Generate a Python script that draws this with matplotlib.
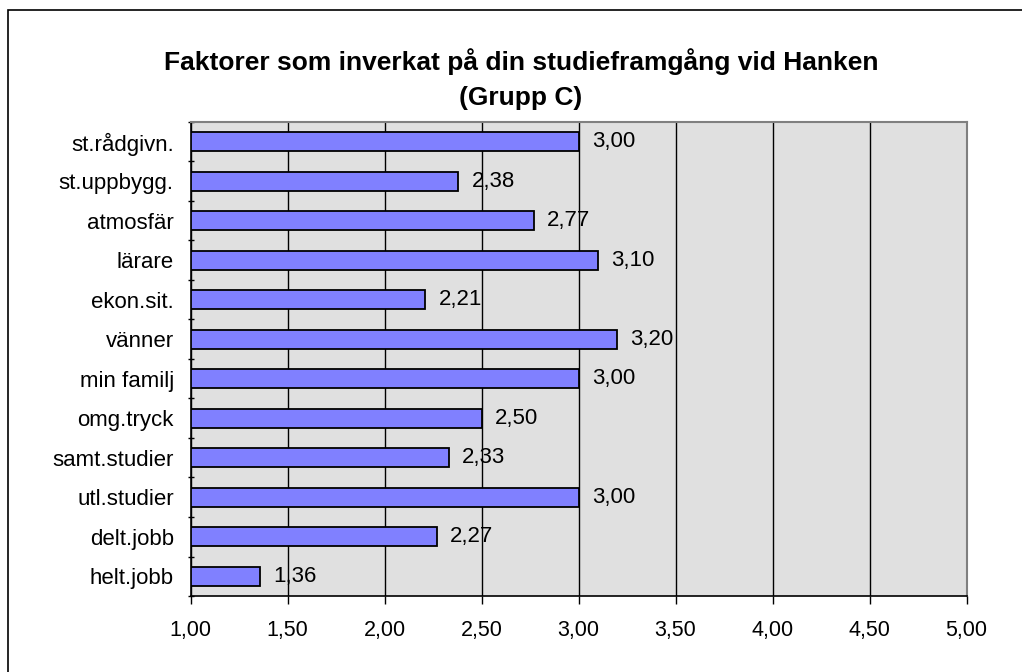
import matplotlib.pyplot as plt
from matplotlib.patches import Rectangle
import numpy as np

plt.rcParams['font.family'] = ['Liberation Sans', 'DejaVu Sans']

categories = ["st.rådgivn.", "st.uppbygg.", "atmosfär", "lärare", "ekon.sit.", "vänner",
              "min familj", "omg.tryck", "samt.studier", "utl.studier", "delt.jobb", "helt.jobb"]
values = [3.00, 2.38, 2.77, 3.10, 2.21, 3.20, 3.00, 2.50, 2.33, 3.00, 2.27, 1.36]
xticks = [1.0, 1.5, 2.0, 2.5, 3.0, 3.5, 4.0, 4.5, 5.0]

fig = plt.figure(figsize=(10.22, 6.72), dpi=100)
# outer chart border (only left/top visible in the reference)
fig.patches.append(Rectangle((8 / 1022, -0.1), 1.2, 1.1 - 10 / 672, transform=fig.transFigure,
                             fill=False, edgecolor='black', linewidth=1.2))

ax = fig.add_axes([190.5 / 1022, 1 - 596 / 672, (966.5 - 190.5) / 1022, (596 - 122) / 672])
ax.set_facecolor('#E0E0E0')

base = 1.0
y = np.arange(len(categories))
ax.barh(y, np.array(values) - base, left=base, height=0.48, color='#8080FF',
        edgecolor='black', linewidth=1.3, zorder=3)
for yi, v in zip(y, values):
    ax.annotate(f"{v:.2f}".replace('.', ','), (v, yi), xytext=(9.5, 0), textcoords='offset points',
                va='center', ha='left', fontsize=16, zorder=4)

ax.set_xlim(1, 5)
ax.set_ylim(len(categories) - 0.5, -0.5)
ax.set_xticks(xticks)
ax.set_xticklabels([f"{t:.2f}".replace('.', ',') for t in xticks], fontsize=15.5)
ax.set_yticks(y)
ax.set_yticklabels(categories, fontsize=16)
ax.set_yticks(np.arange(len(categories) + 1) - 0.5, minor=True)
ax.tick_params(axis='y', which='major', length=0, pad=12)
ax.tick_params(axis='y', which='minor', length=5, direction='inout', width=1)
ax.tick_params(axis='x', length=6, direction='out', width=1, pad=11)
ax.xaxis.grid(True, color='black', linewidth=1, zorder=1)
ax.set_axisbelow(True)

for s in ['top', 'right']:
    ax.spines[s].set_color('#808080')
    ax.spines[s].set_linewidth(1.5)
for s in ['left', 'bottom']:
    ax.spines[s].set_color('black')
    ax.spines[s].set_linewidth(1.2)

fig.text(521 / 1022, 1 - 62 / 672, "Faktorer som inverkat på din studieframgång vid Hanken",
         ha='center', va='center', fontsize=19, fontweight='bold')
fig.text(521 / 1022, 1 - 98 / 672, "(Grupp C)", ha='center', va='center', fontsize=19, fontweight='bold')

fig.savefig('out.png', dpi=100)
